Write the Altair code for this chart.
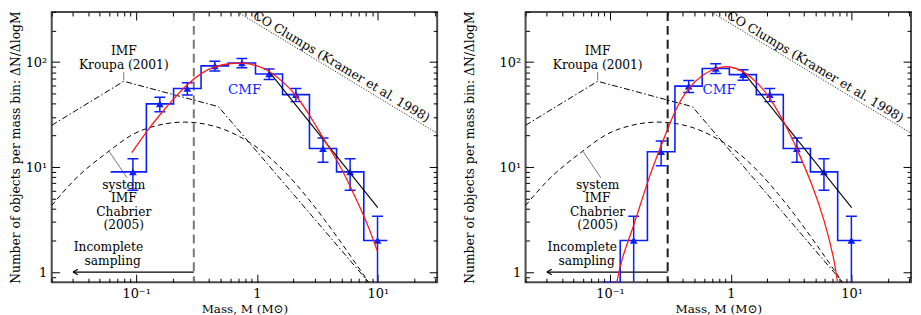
import altair as alt
import pandas as pd

FONT = "DejaVu Serif"
BLUE = "#0a1eff"
RED = "#ff1a1a"
W, H = 388, 272

# ---------------- axes ----------------
x_domain = [0.02, 31]
y_domain = [0.8, 300]
x_major = [0.1, 1, 10]
x_major_labels = ["10⁻¹", "1", "10¹"]
x_minor = [0.02, 0.03, 0.04, 0.05, 0.06, 0.07, 0.08, 0.09,
           0.2, 0.3, 0.4, 0.5, 0.6, 0.7, 0.8, 0.9,
           2, 3, 4, 5, 6, 7, 8, 9, 20, 30]
y_major = [1, 10, 100]
y_major_labels = ["1", "10¹", "10²"]
y_minor = [0.9, 2, 3, 4, 5, 6, 7, 8, 9, 20, 30, 40, 50, 60, 70, 80, 90, 200, 300]

# ---------------- data ----------------
bin_mass = [0.094, 0.157, 0.265, 0.448, 0.75, 1.26, 2.1, 3.52, 5.9, 9.95]
left_counts = [9, 40, 56, 92, 98, 77, 49, 15, 9, 2]
left_err = [3.0, 6.3, 7.5, 9.6, 9.9, 8.8, 7.0, 3.9, 3.0, 1.4]
left_hist_ends = [0.0615, 12.0]
right_counts = [0.8, 2, 14, 59, 87, 76, 49, 15, 9, 2]
right_err = [None, 1.4, 3.7, 7.7, 9.3, 8.7, 7.0, 3.9, 3.0, 1.4]
right_hist_ends = [0.086, 12.0]

left_fit_mass = [0.092, 0.126, 0.157, 0.209, 0.262, 0.351, 0.442, 0.597, 0.742, 1.0,
                 1.26, 1.68, 2.10, 2.81, 3.52, 4.74, 5.89, 8.0, 9.95]
left_fit_n = [13.7, 23.0, 31.5, 46.2, 61.0, 80.0, 90.7, 97.3, 98.7, 93.3,
              82.7, 63.8, 48.8, 29.8, 18.8, 11.1, 6.6, 3.13, 1.57]
right_fit_mass = [0.114, 0.1245, 0.155, 0.2095, 0.264, 0.351, 0.449, 0.594, 0.755, 0.987,
                  1.27, 1.70, 2.12, 2.86, 3.54, 4.78, 5.95, 7.17, 7.63]
right_fit_n = [0.80, 1.34, 2.6, 8.0, 15.8, 36.8, 58.2, 77.1, 88.9, 91.9,
               82.7, 62.4, 45.5, 25.0, 14.8, 6.56, 3.13, 1.34, 0.80]

salpeter_mass = [1.26, 10.0]
salpeter_n = [81, 4.1]
kroupa_mass = [0.02, 0.079, 0.48, 8.4]
kroupa_n = [25, 65.6, 37.6, 0.8]
chabrier_mass = [0.02, 0.030, 0.0596, 0.092, 0.152, 0.25, 0.465, 0.676, 0.923, 8.4]
chabrier_n = [4.3, 7.3, 14.2, 20.2, 25.0, 26.8, 24.1, 20.2, 16.4, 0.8]
co_mass = [0.69, 31]
co_n = [300, 21]
completeness_mass = [0.3]
arrow_mass = [0.03, 0.3]
arrow_n = [1, 1]

note_text = ["IMF", "Kroupa (2001)", "system", "IMF", "Chabrier", "(2005)", "Incomplete", "sampling"]
note_mass = [0.079, 0.079, 0.079, 0.079, 0.079, 0.079, 0.059, 0.064]
note_n = [127, 94.5, 6.8, 5.05, 3.76, 2.8, 1.73, 1.28]
leader_m1 = [0.079, 0.084]
leader_n1 = [80, 7.9]
leader_m2 = [0.079, 0.060]
leader_n2 = [67, 14]
co_label = ["CO Clumps (Kramer et al. 1998)"]
co_label_mass = [5.0]
co_label_n = [90.5]
cmf_n = 54

xs = alt.Scale(type="log", domain=x_domain, nice=False)
ys = alt.Scale(type="log", domain=y_domain, nice=False)


def label_expr(values, labels):
    expr = "''"
    for v, lab in reversed(list(zip(values, labels))):
        expr = f"abs(datum.value - {v}) < {v * 1e-6} ? '{lab}' : {expr}"
    return expr


def lab_axis_x():
    return alt.Axis(orient="bottom", values=x_major, labelExpr=label_expr(x_major, x_major_labels),
                    ticks=False, tickSize=0, domain=False, grid=False,
                    labelFont=FONT, labelFontSize=13, labelColor="black", labelPadding=5,
                    title="Mass, M (M⊙)", titleFont=FONT, titleFontSize=12,
                    titleFontWeight="normal", titleColor="black", titlePadding=3)


def lab_axis_y(tpad):
    return alt.Axis(orient="left", values=y_major, labelExpr=label_expr(y_major, y_major_labels),
                    ticks=False, tickSize=0, domain=False, grid=False,
                    labelFont=FONT, labelFontSize=13, labelColor="black", labelPadding=5,
                    title="Number of objects per mass bin: ΔN/ΔlogM", titleFont=FONT,
                    titleFontSize=12.4, titleFontWeight="normal", titleColor="black",
                    titlePadding=tpad)


def tick_axis(orient, values, size):
    return alt.Axis(orient=orient, values=values, labels=False, domain=False, grid=False,
                    ticks=True, tickSize=size, tickColor="black", tickWidth=1,
                    offset=-size, title=None)


def X(field, axis=None):
    return alt.X(f"{field}:Q", scale=xs, axis=axis)


def Y(field, axis=None):
    return alt.Y(f"{field}:Q", scale=ys, axis=axis)


def panel(counts, errs, ends, fit_m, fit_n, vcolor, cmf_m, ytpad):
    hist = pd.DataFrame({"m": [ends[0]] + bin_mass + [ends[1]],
                         "n": [counts[0]] + counts + [counts[-1]]})
    rows = [{"m": m, "n": c, "lo": c - e, "hi": c + e}
            for m, c, e in zip(bin_mass, counts, errs) if e is not None]
    pts = pd.DataFrame(rows)
    kro = pd.DataFrame({"m": kroupa_mass, "n": kroupa_n})
    cha = pd.DataFrame({"m": chabrier_mass, "n": chabrier_n})
    co = pd.DataFrame({"m": co_mass, "n": co_n})
    sal = pd.DataFrame({"m": salpeter_mass, "n": salpeter_n})
    fit = pd.DataFrame({"m": fit_m, "n": fit_n})
    vl = pd.DataFrame({"m": completeness_mass})
    arr = pd.DataFrame({"m": arrow_mass, "n": arrow_n})
    head = pd.DataFrame({"m": arrow_mass[:1], "n": arrow_n[:1]})
    lead = pd.DataFrame({"m": leader_m1, "n": leader_n1, "m2": leader_m2, "n2": leader_n2})
    notes = pd.DataFrame({"m": note_mass, "n": note_n, "t": note_text})
    cot = pd.DataFrame({"m": co_label_mass, "n": co_label_n, "t": co_label})
    cmf = pd.DataFrame({"m": [cmf_m], "n": [cmf_n], "t": ["CMF"]})

    layers = [
        alt.Chart(cha).mark_line(color="black", strokeWidth=1, strokeDash=[5, 3.5],
                                 interpolate="monotone", clip=True)
        .encode(x=X("m", tick_axis("bottom", x_major, 8)), y=Y("n", tick_axis("left", y_major, 8))),
        alt.Chart(kro).mark_line(color="black", strokeWidth=1, strokeDash=[6, 2.5, 1.5, 2.5], clip=True)
        .encode(x=X("m", lab_axis_x()), y=Y("n", lab_axis_y(ytpad))),
        alt.Chart(co).mark_line(color="#333333", strokeWidth=1, strokeDash=[1.2, 1.6], clip=True)
        .encode(x=X("m", tick_axis("bottom", x_minor, 4)), y=Y("n", tick_axis("left", y_minor, 4))),
        alt.Chart(vl).mark_rule(color=vcolor, strokeWidth=2, strokeDash=[9, 5])
        .encode(x=X("m")),
        alt.Chart(arr).mark_line(color="black", strokeWidth=1.2, clip=True)
        .encode(x=X("m"), y=Y("n")),
        alt.Chart(head).mark_point(shape="M0,0L1.8,-1M0,0L1.8,1", size=30, filled=False,
                                   color="black", strokeWidth=1.2, opacity=1)
        .encode(x=X("m"), y=Y("n")),
        alt.Chart(lead).mark_rule(color="#555555", strokeWidth=0.8)
        .encode(x=X("m"), y=Y("n"), x2="m2:Q", y2="n2:Q"),
        alt.Chart(hist).mark_line(interpolate="step", color=BLUE, strokeWidth=1.6, clip=True)
        .encode(x=X("m"), y=Y("n")),
        alt.Chart(pts).mark_rule(color=BLUE, strokeWidth=1.5, clip=True)
        .encode(x=X("m"), y=Y("lo"), y2="hi:Q"),
        alt.Chart(pts).mark_tick(orient="horizontal", size=11, thickness=1.5, color=BLUE, clip=True, opacity=1)
        .encode(x=X("m"), y=Y("hi")),
        alt.Chart(pts).mark_tick(orient="horizontal", size=11, thickness=1.5, color=BLUE, clip=True, opacity=1)
        .encode(x=X("m"), y=Y("lo")),
        alt.Chart(pts).mark_point(shape="triangle-up", filled=True, size=60, color=BLUE, opacity=1)
        .encode(x=X("m"), y=Y("n")),
        alt.Chart(sal).mark_line(color="black", strokeWidth=1.1, clip=True)
        .encode(x=X("m", tick_axis("top", x_major, 8)), y=Y("n", tick_axis("right", y_major, 8))),
        alt.Chart(fit).mark_line(color=RED, strokeWidth=1.3, interpolate="basis", clip=True)
        .encode(x=X("m", tick_axis("top", x_minor, 4)), y=Y("n", tick_axis("right", y_minor, 4))),
        alt.Chart(notes).mark_text(font=FONT, fontSize=12.3, color="black", align="center",
                                   baseline="middle", clip=True)
        .encode(x=X("m"), y=Y("n"), text="t:N"),
        alt.Chart(cot).mark_text(font=FONT, fontSize=12.5, color="black", align="center",
                                 baseline="middle", angle=31, clip=True)
        .encode(x=X("m"), y=Y("n"), text="t:N"),
        alt.Chart(cmf).mark_text(font=FONT, fontSize=13.5, color=BLUE, align="center",
                                 baseline="middle", clip=True)
        .encode(x=X("m"), y=Y("n"), text="t:N"),
    ]
    return alt.layer(*layers).resolve_axis(x="independent", y="independent").properties(width=W, height=H)


left = panel(left_counts, left_err, left_hist_ends, left_fit_mass, left_fit_n, "#777777", 0.789, 3)
right = panel(right_counts, right_err, right_hist_ends, right_fit_mass, right_fit_n, "#1a1a1a", 0.80, 23)

chart = (
    alt.hconcat(left, right, spacing=23, padding=0)
    .configure_view(stroke="#4a4a4a", strokeWidth=2)
)

chart.save("out.html", embed_options={"renderer": "svg", "actions": False})
